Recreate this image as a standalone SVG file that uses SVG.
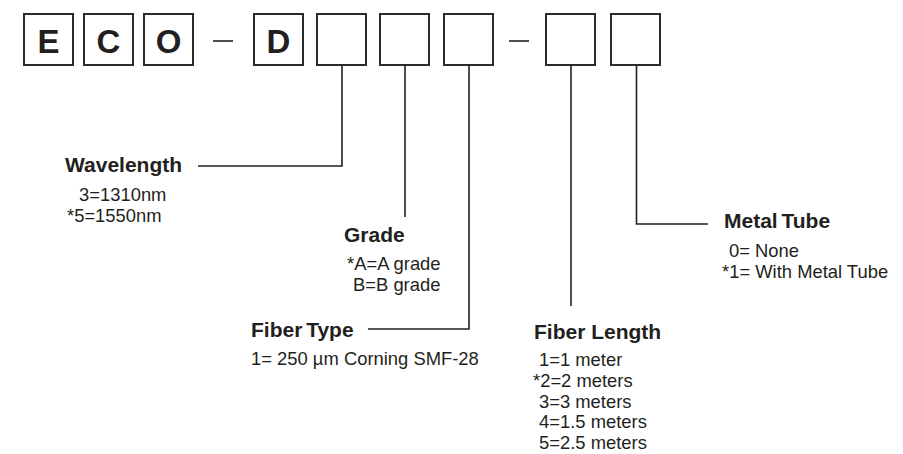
<svg xmlns="http://www.w3.org/2000/svg" width="903" height="454" viewBox="0 0 903 454">
<style>
.box{fill:#fff;stroke:#2b2b2b;stroke-width:2}
.big{font-family:"Liberation Sans",Arial,sans-serif;font-weight:bold;font-size:33px;fill:#231f20;text-anchor:middle}
.h{font-family:"Liberation Sans",Arial,sans-serif;font-weight:bold;font-size:21px;fill:#231f20}
.t{font-family:"Liberation Sans",Arial,sans-serif;font-size:18.4px;fill:#231f20}
.ln{fill:none;stroke:#231f20;stroke-width:1.6}
</style>
<rect width="903" height="454" fill="#fff"/>
<g id="box-E"><rect class="box" x="24" y="14" width="49" height="51"/><text class="big" x="48.5" y="53">E</text></g>
<g id="box-C"><rect class="box" x="84" y="14" width="49" height="51"/><text class="big" x="108.5" y="53">C</text></g>
<g id="box-O"><rect class="box" x="144" y="14" width="49" height="51"/><text class="big" x="168.5" y="53">O</text></g>
<g id="dash1"><line class="ln" x1="213" y1="41" x2="233" y2="41"/></g>
<g id="box-D"><rect class="box" x="254" y="14" width="49" height="51"/><text class="big" x="278.5" y="53">D</text></g>
<g id="box-wavelength"><rect class="box" x="317" y="14" width="49" height="51"/></g>
<g id="box-grade"><rect class="box" x="380" y="14" width="49" height="51"/></g>
<g id="box-fibertype"><rect class="box" x="444" y="14" width="49" height="51"/></g>
<g id="dash2"><line class="ln" x1="509" y1="41" x2="529" y2="41"/></g>
<g id="box-fiberlength"><rect class="box" x="546" y="14" width="49" height="51"/></g>
<g id="box-metaltube"><rect class="box" x="611" y="14" width="49" height="51"/></g>
<g id="connectors">
<path class="ln" d="M342 66 V166 H198"/>
<path class="ln" d="M405 66 V217"/>
<path class="ln" d="M469 66 V329 H368"/>
<path class="ln" d="M571 66 V306"/>
<path class="ln" d="M636.5 66 V224 H708"/>
</g>
<g id="wavelength">
<text class="h" x="65" y="172">Wavelength</text>
<text class="t" x="79" y="201">3=1310nm</text>
<text class="t" x="67" y="222">*5=1550nm</text>
</g>
<g id="grade">
<text class="h" x="344" y="242">Grade</text>
<text class="t" x="347" y="270">*A=A grade</text>
<text class="t" x="353" y="291">B=B grade</text>
</g>
<g id="fibertype">
<text class="h" x="251" y="337" word-spacing="-2">Fiber Type</text>
<text class="t" x="251" y="365">1= 250 µm Corning SMF-28</text>
</g>
<g id="fiberlength">
<text class="h" x="534" y="339">Fiber Length</text>
<text class="t" x="539" y="366">1=1 meter</text>
<text class="t" x="533" y="387">*2=2 meters</text>
<text class="t" x="539" y="408">3=3 meters</text>
<text class="t" x="539" y="428">4=1.5 meters</text>
<text class="t" x="539" y="449">5=2.5 meters</text>
</g>
<g id="metaltube">
<text class="h" x="724" y="228" word-spacing="-2">Metal Tube</text>
<text class="t" x="729" y="257">0= None</text>
<text class="t" x="722" y="278">*1= With Metal Tube</text>
</g>
</svg>
